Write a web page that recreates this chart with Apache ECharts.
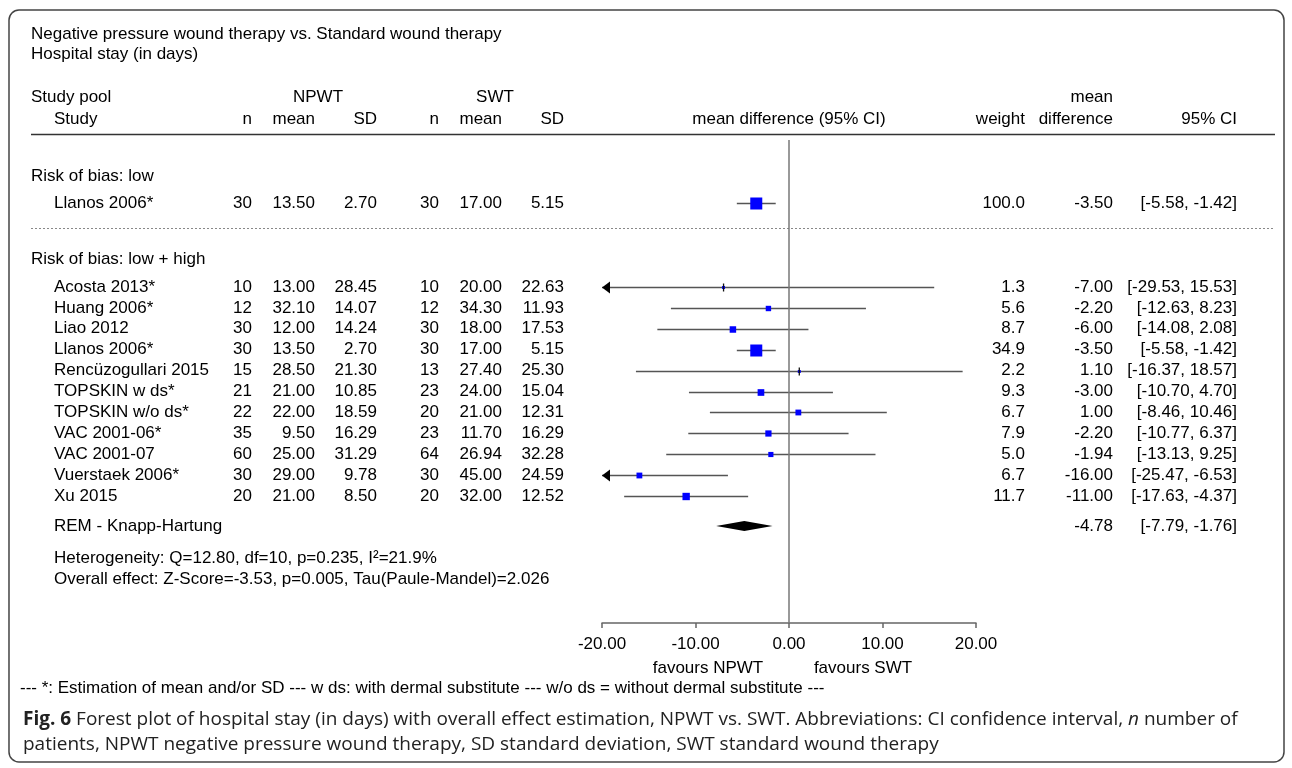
<!DOCTYPE html>
<html><head><meta charset="utf-8">
<script src="https://cdn.jsdelivr.net/npm/echarts@6/dist/echarts.min.js"></script>
<style>html,body{margin:0;padding:0;background:#fff}#c{width:1292px;height:768px}</style>
</head><body><div id="c"></div><script>
// ---------- DATA ----------
const lowStudies = ['Llanos 2006*'];
const lowNpwtN = [30], lowNpwtMean = [13.50], lowNpwtSD = [2.70];
const lowSwtN = [30], lowSwtMean = [17.00], lowSwtSD = [5.15];
const lowWeight = [100.0], lowMD = [-3.50], lowCiLow = [-5.58], lowCiHigh = [-1.42];

const studies = ['Acosta 2013*','Huang 2006*','Liao 2012','Llanos 2006*','Rencüzogullari 2015','TOPSKIN w ds*','TOPSKIN w/o ds*','VAC 2001-06*','VAC 2001-07','Vuerstaek 2006*','Xu 2015'];
const npwtN = [10,12,30,30,15,21,22,35,60,30,20];
const npwtMean = [13.00,32.10,12.00,13.50,28.50,21.00,22.00,9.50,25.00,29.00,21.00];
const npwtSD = [28.45,14.07,14.24,2.70,21.30,10.85,18.59,16.29,31.29,9.78,8.50];
const swtN = [10,12,30,30,13,23,20,23,64,30,20];
const swtMean = [20.00,34.30,18.00,17.00,27.40,24.00,21.00,11.70,26.94,45.00,32.00];
const swtSD = [22.63,11.93,17.53,5.15,25.30,15.04,12.31,16.29,32.28,24.59,12.52];
const weights = [1.3,5.6,8.7,34.9,2.2,9.3,6.7,7.9,5.0,6.7,11.7];
const meanDiff = [-7.00,-2.20,-6.00,-3.50,1.10,-3.00,1.00,-2.20,-1.94,-16.00,-11.00];
const ciLow = [-29.53,-12.63,-14.08,-5.58,-16.37,-10.70,-8.46,-10.77,-13.13,-25.47,-17.63];
const ciHigh = [15.53,8.23,2.08,-1.42,18.57,4.70,10.46,6.37,9.25,-6.53,-4.37];
const pooledMD = [-4.78], pooledLow = [-7.79], pooledHigh = [-1.76];
const xTicks = [-20,-10,0,10,20];

// ---------- LAYOUT ----------
const FF = '"Liberation Sans", Arial, Helvetica, sans-serif';
const FS = 17;
const ROW0 = 287, ROWH = 20.9;
const GRID_TOP = 140, AXIS_Y = 623;
const rowY = r => ROW0 + r * ROWH;
const LOW_ROW = -4.0, REM_ROW = 11.43;
const COL = {name:54, group:31, nN:252, nMean:315, nSD:377, sN:439, sMean:502, sSD:564, w:1025, md:1113, ci:1237};

const f2 = v => v.toFixed(2);
const f1 = v => v.toFixed(1);
const ciStr = (a,b) => '[' + f2(a) + ', ' + f2(b) + ']';

const g = [];
function txt(x, y, s, align, extra) {
  g.push({type:'text', x:x, y:y, silent:true, z:10,
    style:Object.assign({text:s, fill:'#000', fontSize:FS, fontFamily:FF,
      textAlign:align||'left', textVerticalAlign:'middle'}, extra||{})});
}
// frame
g.push({type:'rect', shape:{x:9, y:10, width:1275, height:752, r:10}, silent:true,
  style:{fill:'none', stroke:'#444', lineWidth:1.5}});
// titles
txt(31, 34, 'Negative pressure wound therapy vs. Standard wound therapy');
txt(31, 54, 'Hospital stay (in days)');
// header
txt(31, 97, 'Study pool');
txt(54, 119, 'Study');
txt(318, 97, 'NPWT', 'center');
txt(495, 97, 'SWT', 'center');
txt(COL.nN, 119, 'n', 'right'); txt(COL.nMean, 119, 'mean', 'right'); txt(COL.nSD, 119, 'SD', 'right');
txt(COL.sN, 119, 'n', 'right'); txt(COL.sMean, 119, 'mean', 'right'); txt(COL.sSD, 119, 'SD', 'right');
txt(789, 119, 'mean difference (95% CI)', 'center');
txt(COL.w, 119, 'weight', 'right');
txt(COL.md, 97, 'mean', 'right');
txt(COL.md, 119, 'difference', 'right');
txt(COL.ci, 119, '95% CI', 'right');
g.push({type:'line', shape:{x1:31, y1:134.5, x2:1275, y2:134.5}, silent:true, style:{stroke:'#333', lineWidth:1.5}});
g.push({type:'line', shape:{x1:31, y1:228.5, x2:1275, y2:228.5}, silent:true, style:{stroke:'#888', lineWidth:1, lineDash:[2,2]}});

function tableRow(y, name, a,b,c,d,e,f,w,md,lo,hi) {
  txt(COL.name, y, name);
  txt(COL.nN, y, String(a), 'right'); txt(COL.nMean, y, f2(b), 'right'); txt(COL.nSD, y, f2(c), 'right');
  txt(COL.sN, y, String(d), 'right'); txt(COL.sMean, y, f2(e), 'right'); txt(COL.sSD, y, f2(f), 'right');
  txt(COL.w, y, f1(w), 'right'); txt(COL.md, y, f2(md), 'right'); txt(COL.ci, y, ciStr(lo,hi), 'right');
}
txt(COL.group, 176, 'Risk of bias: low');
lowStudies.forEach((s,i) => tableRow(rowY(LOW_ROW + i), s, lowNpwtN[i], lowNpwtMean[i], lowNpwtSD[i], lowSwtN[i], lowSwtMean[i], lowSwtSD[i], lowWeight[i], lowMD[i], lowCiLow[i], lowCiHigh[i]));
txt(COL.group, 259, 'Risk of bias: low + high');
studies.forEach((s,i) => tableRow(rowY(i), s, npwtN[i], npwtMean[i], npwtSD[i], swtN[i], swtMean[i], swtSD[i], weights[i], meanDiff[i], ciLow[i], ciHigh[i]));
txt(COL.name, rowY(REM_ROW), 'REM - Knapp-Hartung');
txt(COL.md, rowY(REM_ROW), f2(pooledMD[0]), 'right');
txt(COL.ci, rowY(REM_ROW), ciStr(pooledLow[0], pooledHigh[0]), 'right');
txt(COL.name, 558, 'Heterogeneity: Q=12.80, df=10, p=0.235, I\u00b2=21.9%');
txt(COL.name, 579, 'Overall effect: Z-Score=-3.53, p=0.005, Tau(Paule-Mandel)=2.026');
// favours
txt(708, 668, 'favours NPWT', 'center');
txt(863, 668, 'favours SWT', 'center');
// footnote
txt(20, 688, '--- *: Estimation of mean and/or SD --- w ds: with dermal substitute --- w/o ds = without dermal substitute ---', 'left', {fontSize:17});
// caption
const CF = '"Open Sans", "Noto Sans", sans-serif';
const CS = 19;
txt(23, 720, '{b|Fig. 6} Forest plot of hospital stay (in days) with overall effect estimation, NPWT vs. SWT. Abbreviations: CI confidence interval, {i|n} number of', 'left',
  {fontFamily:CF, fontSize:CS, fill:'#222', rich:{b:{fontWeight:'bold', fontFamily:CF, fontSize:CS, fill:'#222'}, i:{fontStyle:'italic', fontFamily:CF, fontSize:CS, fill:'#222'}}});
txt(23, 745, 'patients, NPWT negative pressure wound therapy, SD standard deviation, SWT standard wound therapy', 'left', {fontFamily:CF, fontSize:CS, fill:'#222'});

// ---------- SERIES DATA ----------
const XMIN = xTicks[0], XMAX = xTicks[xTicks.length-1];
const BOXMAX = 11;
const lowMax = Math.max.apply(null, lowWeight), allMax = Math.max.apply(null, weights);
const ciData = [];
lowMD.forEach((m,i) => ciData.push([m, LOW_ROW + i, lowCiLow[i], lowCiHigh[i], BOXMAX*Math.sqrt(lowWeight[i]/lowMax)]));
meanDiff.forEach((m,i) => ciData.push([m, i, ciLow[i], ciHigh[i], BOXMAX*Math.sqrt(weights[i]/allMax)]));

function renderCI(params, api) {
  const md = api.value(0), row = api.value(1), lo = api.value(2), hi = api.value(3), sz = api.value(4);
  const y = Math.round(api.coord([0,row])[1]) + 0.5;
  const xl = api.coord([Math.max(lo,XMIN), row])[0];
  const xr = api.coord([Math.min(hi,XMAX), row])[0];
  const xm = api.coord([md,row])[0];
  const ch = [{type:'line', shape:{x1:xl, y1:y, x2:xr, y2:y}, style:{stroke:'#555', lineWidth:1.3}}];
  if (lo < XMIN) ch.push({type:'polygon', shape:{points:[[xl,y],[xl+8,y-6],[xl+8,y+6]]}, style:{fill:'#000'}});
  if (hi > XMAX) ch.push({type:'polygon', shape:{points:[[xr,y],[xr-8,y-6],[xr-8,y+6]]}, style:{fill:'#000'}});
  const s = sz < 3 ? 3 : sz + 1;
  ch.push({type:'rect', shape:{x:xm-s/2, y:y-s/2, width:s, height:s}, style:{fill:'#0000ff'}});
  if (sz < 3) ch.push({type:'line', shape:{x1:xm, y1:y-4, x2:xm, y2:y+4}, style:{stroke:'#111', lineWidth:1.3}});
  return {type:'group', children:ch};
}
function renderDiamond(params, api) {
  const md = api.value(0), row = api.value(1), lo = api.value(2), hi = api.value(3);
  const y = api.coord([0,row])[1];
  const xl = api.coord([lo,row])[0], xr = api.coord([hi,row])[0], xm = api.coord([md,row])[0];
  return {type:'polygon', shape:{points:[[xl,y],[xm,y-5],[xr,y],[xm,y+5]]}, style:{fill:'#000'}};
}

const chart = echarts.init(document.getElementById('c'), null, {renderer:'canvas'});
chart.setOption({
  animation:false,
  backgroundColor:'#fff',
  grid:{left:602, right:1292-976, top:GRID_TOP, bottom:768-AXIS_Y, containLabel:false},
  xAxis:{type:'value', min:XMIN, max:XMAX, interval:xTicks[1]-xTicks[0], position:'bottom',
    axisLine:{show:true, onZero:false, lineStyle:{color:'#666', width:1.5}},
    axisTick:{show:true, length:5, lineStyle:{color:'#666', width:1.5}},
    axisLabel:{formatter:v => v.toFixed(2), fontSize:FS, fontFamily:FF, color:'#000', margin:13},
    splitLine:{show:false}},
  yAxis:{type:'value', inverse:true, min:(GRID_TOP-ROW0)/ROWH, max:(AXIS_Y-ROW0)/ROWH, show:false, splitLine:{show:false}},
  series:[
    {type:'custom', renderItem:renderCI, data:ciData, clip:false, silent:true, z:3,
      markLine:{silent:true, symbol:'none', label:{show:false}, lineStyle:{color:'#777', width:1.5, type:'solid'}, data:[{xAxis:0}]}},
    {type:'custom', renderItem:renderDiamond, data:[[pooledMD[0], REM_ROW, pooledLow[0], pooledHigh[0]]], clip:false, silent:true, z:3}
  ],
  graphic:g
});
</script></body></html>
